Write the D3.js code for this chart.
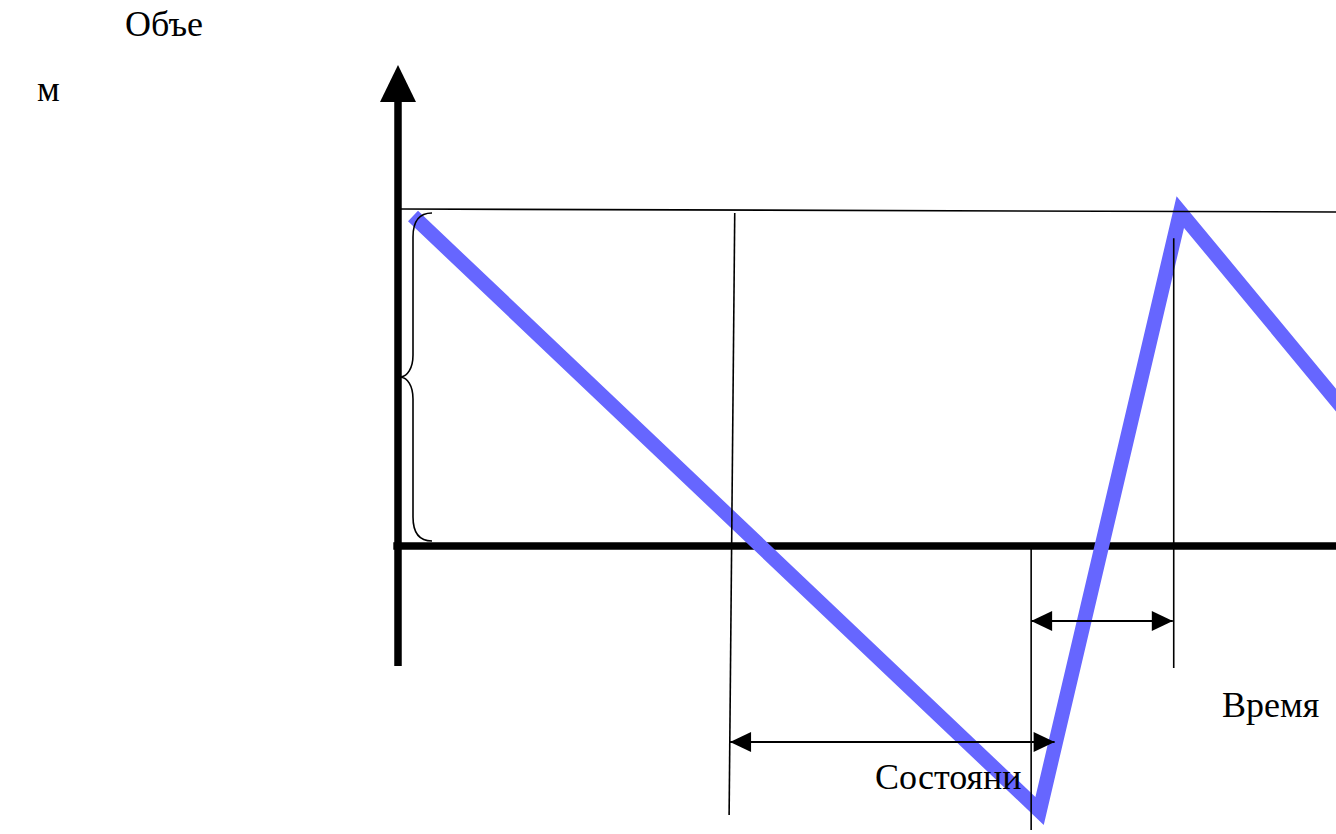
<!DOCTYPE html>
<html lang="ru">
<head>
<meta charset="utf-8">
<script src="https://cdn.jsdelivr.net/npm/d3@7"></script>
<style>
	html, body { margin: 0; padding: 0; background: #fff; }
	svg { display: block; }
	text { font-family: "Liberation Serif", "Times New Roman", serif; fill: #000; }
</style>
</head>
<body>
<div id="chart"></div>
<script>
/* Время (условные единицы) и объём запаса по точкам ломаной */
const stockTime = [1.6, 68.4, 83.4, 101.5];
const stockVolume = [98.5, -79.1, 99.7, 38.5];

/* Линия максимального запаса */
const maxTime = [0.2, 100];
const maxVolume = [100.6, 99.7];

/* Вертикальные вспомогательные линии */
const guideTimeTop = [35.9, 67.5, 82.7];
const guideTimeBottom = [35.3, 67.5, 82.7];
const guideVolumeTop = [99.4, 0, 91.9];
const guideVolumeBottom = [-80.3, -84.8, -36.4];

/* Двусторонние стрелки-интервалы */
const arrowFrom = [67.5, 35.4];
const arrowTo = [82.6, 70.0];
const arrowVolume = [-22.4, -58.5];

/* Фигурная скобка (от нуля до максимального запаса) */
const braceVolume = [99.4, 1.5];

/* Оси */
const axisTime = [-0.5, 100];
const axisVolume = [-35.8, 143.6];

/* Подписи */
const labels = ['Объе', 'м', 'Время', 'Состояни'];

const width = 1336;
const height = 834;

const svg = d3.select('#chart').append('svg')
	.attr('width', width)
	.attr('height', height);

// шкалы
const xScale = d3.scaleLinear().domain([0, 100]).range([398, 1336]);
const yScale = d3.scaleLinear().domain([0, 100]).range([546, 211]);

const line = d3.line()
	.x(d => xScale(d[0]))
	.y(d => yScale(d[1]));

// ось X (толстая)
svg.append('path')
	.attr('d', line([[axisTime[0], 0], [axisTime[1], 0]]))
	.attr('stroke', '#000')
	.attr('stroke-width', 7.5)
	.attr('fill', 'none');

// ось Y с наконечником
const yTop = yScale(axisVolume[1]);
svg.append('path')
	.attr('d', line([[0, axisVolume[0]], [0, axisVolume[1] - 5]]))
	.attr('stroke', '#000')
	.attr('stroke-width', 7.5)
	.attr('fill', 'none');
svg.append('path')
	.attr('d', `M${xScale(0)},${yTop} L${xScale(0) - 18},${yTop + 37} L${xScale(0) + 18},${yTop + 37} Z`)
	.attr('fill', '#000');

// ломаная запаса
const stockData = stockTime.map((t, i) => [t, stockVolume[i]]);
svg.append('path')
	.datum(stockData)
	.attr('d', line)
	.attr('stroke', '#6666ff')
	.attr('stroke-width', 14.5)
	.attr('stroke-linejoin', 'miter')
	.attr('fill', 'none');

// линия максимального запаса
svg.append('path')
	.attr('d', line(maxTime.map((t, i) => [t, maxVolume[i]])))
	.attr('stroke', '#000')
	.attr('stroke-width', 1.6)
	.attr('fill', 'none');

// вертикальные линии
svg.selectAll('.guide')
	.data(guideTimeTop)
	.enter()
	.append('path')
	.attr('class', 'guide')
	.attr('d', (d, i) => line([[guideTimeTop[i], guideVolumeTop[i]], [guideTimeBottom[i], guideVolumeBottom[i]]]))
	.attr('stroke', '#000')
	.attr('stroke-width', 1.6)
	.attr('fill', 'none');

// стрелки
const head = (x, y, dir) => {
	const len = 21, half = 10;
	return `M${x},${y} L${x - dir * len},${y - half} L${x - dir * len},${y + half} Z`;
};
arrowFrom.forEach((from, i) => {
	const x1 = xScale(from), x2 = xScale(arrowTo[i]), y = yScale(arrowVolume[i]);
	svg.append('path')
		.attr('d', `M${x1},${y} L${x2},${y}`)
		.attr('stroke', '#000')
		.attr('stroke-width', 2)
		.attr('fill', 'none');
	svg.append('path').attr('d', head(x1, y, -1)).attr('fill', '#000');
	svg.append('path').attr('d', head(x2, y, 1)).attr('fill', '#000');
});

// фигурная скобка
const by1 = yScale(braceVolume[0]);
const by2 = yScale(braceVolume[1]);
const bym = (by1 + by2) / 2;
const bx = xScale(0) + 3;
svg.append('path')
	.attr('d', `M${bx + 31},${by1}
		C${bx + 18},${by1} ${bx + 12},${by1 + 8} ${bx + 12},${by1 + 24}
		L${bx + 12},${bym - 22}
		C${bx + 12},${bym - 8} ${bx + 6},${bym - 1} ${bx},${bym}
		C${bx + 6},${bym + 1} ${bx + 12},${bym + 8} ${bx + 12},${bym + 22}
		L${bx + 12},${by2 - 24}
		C${bx + 12},${by2 - 8} ${bx + 18},${by2} ${bx + 31},${by2}`)
	.attr('stroke', '#000')
	.attr('stroke-width', 1.6)
	.attr('fill', 'none');

// подписи
const labelX = [125, 37, 1222, 875];
const labelY = [36, 101, 717, 789];
svg.selectAll('.label')
	.data(labels)
	.enter()
	.append('text')
	.attr('class', 'label')
	.attr('x', (d, i) => labelX[i])
	.attr('y', (d, i) => labelY[i])
	.attr('font-size', 36)
	.text(d => d);
</script>
</body>
</html>
